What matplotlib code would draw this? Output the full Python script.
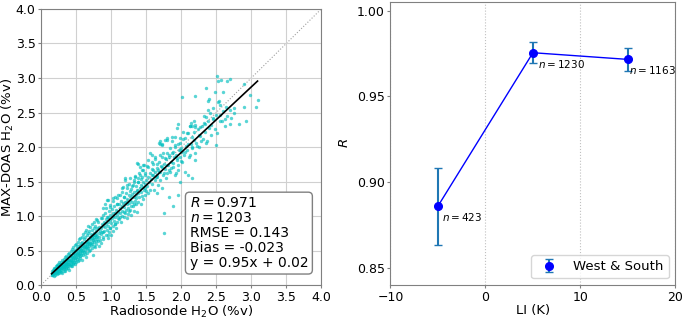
import matplotlib
matplotlib.use('Agg')
import matplotlib.pyplot as plt
import numpy as np

# left panel: radiosonde vs MAX-DOAS H2O
scatter_pts = [
    (0.15, 0.15), (0.15, 0.18), (0.16, 0.14), (0.16, 0.20), (0.16, 0.17), (0.17, 0.16), (0.17, 0.22), (0.17, 0.19),
    (0.18, 0.13), (0.18, 0.18), (0.18, 0.23), (0.19, 0.17), (0.19, 0.21), (0.19, 0.25), (0.20, 0.15), (0.20, 0.19),
    (0.20, 0.24), (0.21, 0.18), (0.21, 0.22), (0.21, 0.27), (0.22, 0.16), (0.22, 0.21), (0.22, 0.25), (0.22, 0.29),
    (0.23, 0.19), (0.23, 0.23), (0.23, 0.27), (0.24, 0.17), (0.24, 0.22), (0.24, 0.26), (0.24, 0.31), (0.25, 0.20),
    (0.25, 0.24), (0.25, 0.28), (0.26, 0.18), (0.26, 0.23), (0.26, 0.27), (0.26, 0.33), (0.27, 0.21), (0.27, 0.25),
    (0.27, 0.30), (0.28, 0.19), (0.28, 0.24), (0.28, 0.28), (0.28, 0.34), (0.29, 0.22), (0.29, 0.27), (0.29, 0.31),
    (0.30, 0.17), (0.30, 0.25), (0.30, 0.29), (0.30, 0.36), (0.31, 0.23), (0.31, 0.28), (0.31, 0.33), (0.32, 0.21),
    (0.32, 0.26), (0.32, 0.31), (0.32, 0.38), (0.33, 0.24), (0.33, 0.29), (0.33, 0.35), (0.34, 0.20), (0.34, 0.27),
    (0.34, 0.32), (0.34, 0.40), (0.35, 0.25), (0.35, 0.30), (0.35, 0.36), (0.36, 0.23), (0.36, 0.29), (0.36, 0.34),
    (0.36, 0.42), (0.37, 0.27), (0.37, 0.32), (0.37, 0.38), (0.38, 0.24), (0.38, 0.30), (0.38, 0.36), (0.38, 0.45),
    (0.39, 0.28), (0.39, 0.34), (0.39, 0.40), (0.40, 0.22), (0.40, 0.31), (0.40, 0.37), (0.40, 0.47), (0.41, 0.29),
    (0.41, 0.35), (0.41, 0.42), (0.42, 0.27), (0.42, 0.33), (0.42, 0.39), (0.42, 0.50), (0.43, 0.30), (0.43, 0.37),
    (0.43, 0.44), (0.44, 0.28), (0.44, 0.35), (0.44, 0.41), (0.44, 0.52), (0.45, 0.32), (0.45, 0.39), (0.45, 0.46),
    (0.46, 0.30), (0.46, 0.37), (0.46, 0.43), (0.46, 0.55), (0.47, 0.34), (0.47, 0.41), (0.47, 0.49), (0.48, 0.31),
    (0.48, 0.39), (0.48, 0.45), (0.48, 0.58), (0.49, 0.36), (0.49, 0.43), (0.49, 0.51), (0.50, 0.33), (0.50, 0.41),
    (0.50, 0.48), (0.50, 0.60), (0.51, 0.38), (0.51, 0.45), (0.51, 0.53), (0.52, 0.35), (0.52, 0.43), (0.52, 0.50),
    (0.52, 0.63), (0.53, 0.40), (0.53, 0.47), (0.53, 0.56), (0.54, 0.37), (0.54, 0.45), (0.54, 0.52), (0.54, 0.66),
    (0.55, 0.42), (0.55, 0.49), (0.55, 0.58), (0.56, 0.39), (0.56, 0.47), (0.56, 0.54), (0.56, 0.68), (0.57, 0.44),
    (0.57, 0.51), (0.57, 0.61), (0.58, 0.36), (0.58, 0.49), (0.58, 0.56), (0.58, 0.70), (0.59, 0.46), (0.59, 0.53),
    (0.59, 0.63), (0.60, 0.43), (0.60, 0.51), (0.60, 0.58), (0.60, 0.74), (0.61, 0.48), (0.61, 0.55), (0.61, 0.66),
    (0.62, 0.45), (0.62, 0.53), (0.62, 0.60), (0.62, 0.77), (0.63, 0.50), (0.63, 0.57), (0.63, 0.69), (0.64, 0.41),
    (0.64, 0.55), (0.64, 0.62), (0.64, 0.80), (0.65, 0.52), (0.65, 0.59), (0.65, 0.72), (0.66, 0.47), (0.66, 0.57),
    (0.66, 0.64), (0.67, 0.54), (0.67, 0.61), (0.67, 0.75), (0.67, 0.85), (0.68, 0.49), (0.68, 0.59), (0.68, 0.67),
    (0.69, 0.56), (0.69, 0.63), (0.69, 0.78), (0.70, 0.51), (0.70, 0.61), (0.70, 0.69), (0.70, 0.84), (0.71, 0.58),
    (0.71, 0.66), (0.71, 0.74), (0.72, 0.53), (0.72, 0.63), (0.72, 0.71), (0.72, 0.88), (0.73, 0.60), (0.73, 0.68),
    (0.73, 0.80), (0.74, 0.44), (0.74, 0.65), (0.74, 0.73), (0.75, 0.57), (0.75, 0.70), (0.75, 0.83), (0.75, 0.92),
    (0.76, 0.62), (0.76, 0.67), (0.76, 0.76), (0.77, 0.55), (0.77, 0.72), (0.77, 0.86), (0.78, 0.64), (0.78, 0.69),
    (0.78, 0.79), (0.79, 0.59), (0.79, 0.74), (0.79, 0.95), (0.80, 0.66), (0.80, 0.71), (0.80, 0.82), (0.80, 0.94),
    (0.81, 0.64), (0.81, 0.92), (0.82, 0.76), (0.82, 0.57), (0.83, 0.84), (0.83, 0.70), (0.84, 0.79), (0.84, 0.65),
    (0.85, 0.97), (0.85, 0.74), (0.86, 0.82), (0.86, 0.61), (0.87, 0.88), (0.87, 0.77), (0.87, 0.97), (0.88, 0.70),
    (0.88, 1.02), (0.89, 0.85), (0.89, 0.66), (0.89, 0.77), (0.89, 1.11), (0.90, 0.91), (0.90, 0.79), (0.91, 0.84),
    (0.91, 1.05), (0.91, 1.18), (0.92, 0.73), (0.92, 0.95), (0.93, 0.88), (0.93, 1.12), (0.94, 0.80), (0.94, 1.23),
    (0.94, 0.99), (0.95, 0.92), (0.95, 0.68), (0.96, 0.99), (0.96, 0.86), (0.96, 0.72), (0.96, 1.23), (0.97, 1.08),
    (0.97, 0.77), (0.98, 0.94), (0.98, 1.16), (0.99, 0.83), (0.99, 1.02), (0.99, 1.13), (0.99, 0.82), (1.00, 0.90),
    (1.00, 0.72), (1.01, 1.10), (1.01, 0.97), (1.02, 0.86), (1.02, 1.22), (1.03, 1.00), (1.03, 0.79), (1.03, 1.26),
    (1.03, 1.04), (1.04, 0.93), (1.04, 1.14), (1.05, 1.05), (1.05, 0.88), (1.06, 0.98), (1.06, 1.28), (1.06, 0.89),
    (1.07, 0.83), (1.07, 1.09), (1.08, 1.26), (1.08, 1.02), (1.08, 1.18), (1.09, 0.92), (1.09, 1.18), (1.10, 1.06),
    (1.10, 0.97), (1.10, 1.30), (1.11, 1.17), (1.11, 0.95), (1.12, 1.30), (1.12, 1.04), (1.13, 1.11), (1.13, 0.99),
    (1.14, 1.22), (1.14, 0.91), (1.15, 1.08), (1.15, 1.35), (1.15, 1.40), (1.16, 1.15), (1.16, 1.00), (1.17, 1.42),
    (1.17, 1.19), (1.18, 1.06), (1.18, 1.27), (1.18, 1.28), (1.19, 0.98), (1.19, 1.13), (1.20, 1.52), (1.20, 1.21),
    (1.20, 1.04), (1.20, 1.55), (1.21, 1.09), (1.21, 1.33), (1.22, 1.17), (1.22, 0.97), (1.22, 1.45), (1.22, 1.21),
    (1.23, 1.25), (1.23, 1.40), (1.24, 1.12), (1.24, 1.03), (1.25, 1.30), (1.25, 1.19), (1.26, 1.46), (1.26, 1.08),
    (1.27, 1.23), (1.27, 1.36), (1.27, 1.55), (1.27, 1.09), (1.28, 1.15), (1.28, 1.28), (1.29, 1.02), (1.29, 1.39),
    (1.30, 1.21), (1.30, 1.32), (1.30, 1.43), (1.31, 1.14), (1.31, 1.45), (1.32, 1.28), (1.32, 1.50), (1.32, 1.18),
    (1.32, 1.52), (1.33, 1.08), (1.33, 1.35), (1.34, 1.22), (1.34, 1.58), (1.34, 1.57), (1.35, 1.31), (1.35, 1.17),
    (1.36, 1.43), (1.36, 1.26), (1.37, 1.77), (1.37, 1.36), (1.37, 1.06), (1.37, 1.38), (1.38, 1.21), (1.38, 1.50),
    (1.39, 1.49), (1.39, 1.33), (1.39, 1.76), (1.39, 1.55), (1.40, 1.62), (1.40, 1.27), (1.41, 1.71), (1.41, 1.40),
    (1.41, 1.59), (1.42, 1.18), (1.42, 1.53), (1.43, 1.35), (1.43, 1.45), (1.44, 1.57), (1.44, 1.29), (1.44, 1.67),
    (1.45, 1.42), (1.45, 1.66), (1.46, 1.24), (1.46, 1.50), (1.46, 1.74), (1.47, 1.38), (1.47, 1.74), (1.48, 1.46),
    (1.48, 1.31), (1.49, 1.60), (1.49, 1.41), (1.49, 1.62), (1.50, 1.52), (1.50, 1.36), (1.51, 1.72), (1.51, 1.44),
    (1.52, 1.56), (1.53, 1.81), (1.53, 1.33), (1.53, 1.71), (1.54, 1.49), (1.55, 1.63), (1.56, 1.91), (1.56, 1.38),
    (1.57, 1.54), (1.58, 1.88), (1.58, 1.68), (1.58, 1.79), (1.58, 1.59), (1.59, 1.47), (1.60, 1.59), (1.60, 1.75),
    (1.60, 1.67), (1.61, 1.37), (1.62, 1.64), (1.62, 1.52), (1.63, 1.83), (1.63, 1.86), (1.64, 1.56), (1.65, 1.33),
    (1.65, 1.70), (1.65, 1.76), (1.65, 1.57), (1.66, 1.60), (1.67, 1.67), (1.67, 1.45), (1.68, 1.78), (1.68, 1.64),
    (1.69, 2.06), (1.70, 1.52), (1.70, 2.05), (1.70, 1.64), (1.70, 2.08), (1.70, 1.88), (1.71, 1.72), (1.72, 1.85),
    (1.72, 1.41), (1.72, 2.05), (1.72, 1.71), (1.73, 2.03), (1.74, 1.91), (1.74, 1.60), (1.75, 1.76), (1.75, 1.62),
    (1.76, 1.04), (1.76, 0.76), (1.77, 1.68), (1.77, 2.10), (1.77, 1.84), (1.78, 1.82), (1.79, 1.55), (1.80, 2.10),
    (1.80, 1.91), (1.80, 1.62), (1.80, 2.13), (1.80, 1.74), (1.81, 1.74), (1.82, 1.28), (1.82, 1.67), (1.82, 1.88),
    (1.83, 1.86), (1.84, 1.98), (1.84, 1.64), (1.85, 1.70), (1.86, 1.79), (1.87, 2.08), (1.87, 2.15), (1.87, 1.91),
    (1.88, 1.93), (1.89, 1.77), (1.89, 1.14), (1.89, 1.71), (1.90, 1.86), (1.91, 2.00), (1.91, 2.15), (1.91, 2.03),
    (1.91, 1.59), (1.92, 1.62), (1.93, 1.89), (1.94, 1.81), (1.94, 2.27), (1.94, 1.84), (1.95, 2.04), (1.96, 1.31),
    (1.96, 1.74), (1.96, 2.34), (1.96, 1.67), (1.97, 1.95), (1.98, 1.86), (1.99, 1.50), (1.99, 2.06), (1.99, 2.13),
    (1.99, 1.96), (2.00, 1.80), (2.00, 1.98), (2.01, 2.72), (2.01, 1.93), (2.01, 1.79), (2.02, 2.22), (2.03, 2.12),
    (2.04, 1.88), (2.06, 2.13), (2.06, 1.64), (2.06, 1.93), (2.07, 2.01), (2.08, 1.96), (2.08, 2.20), (2.10, 2.20),
    (2.10, 2.05), (2.10, 1.59), (2.11, 1.85), (2.12, 2.30), (2.13, 2.30), (2.13, 1.88), (2.14, 2.04), (2.14, 2.35),
    (2.15, 2.14), (2.15, 2.00), (2.15, 1.55), (2.15, 2.30), (2.16, 1.98), (2.18, 2.22), (2.19, 2.10), (2.19, 2.37),
    (2.20, 1.92), (2.20, 2.74), (2.20, 2.32), (2.20, 1.81), (2.20, 2.29), (2.21, 2.06), (2.23, 2.01), (2.24, 2.26),
    (2.25, 2.00), (2.26, 2.18), (2.27, 2.16), (2.27, 2.29), (2.28, 2.08), (2.30, 2.30), (2.31, 2.12), (2.32, 2.45),
    (2.33, 2.35), (2.34, 2.22), (2.34, 2.34), (2.36, 2.06), (2.36, 2.86), (2.36, 2.44), (2.37, 2.08), (2.39, 2.54),
    (2.39, 2.37), (2.39, 2.66), (2.40, 2.27), (2.40, 2.69), (2.41, 2.49), (2.42, 2.32), (2.43, 2.18), (2.45, 2.40),
    (2.45, 2.56), (2.46, 2.42), (2.48, 2.26), (2.48, 2.79), (2.49, 2.03), (2.50, 2.46), (2.51, 3.03), (2.51, 2.20),
    (2.52, 2.65), (2.53, 2.96), (2.54, 2.66), (2.56, 2.47), (2.56, 2.61), (2.56, 2.37), (2.57, 2.97), (2.58, 2.38),
    (2.60, 2.52), (2.60, 2.80), (2.63, 2.30), (2.63, 2.40), (2.64, 2.58), (2.65, 2.96), (2.66, 2.45), (2.69, 2.99),
    (2.70, 2.54), (2.70, 2.34), (2.71, 2.42), (2.75, 2.57), (2.75, 2.49), (2.82, 2.34), (2.89, 2.58), (2.90, 2.91),
    (2.93, 2.37), (2.98, 2.76), (3.07, 2.58), (3.09, 2.68),
]
radiosonde = [p[0] for p in scatter_pts]
maxdoas = [p[1] for p in scatter_pts]

fit_slope, fit_intercept = 0.95, 0.02
stats_lines = ['$R = 0.971$', '$n = 1203$', 'RMSE = 0.143', 'Bias = -0.023', 'y = 0.95x + 0.02']

# right panel: correlation per LI bin
li_bins = [-5, 5, 15]
r_values = [0.886, 0.9754, 0.9715]
r_err = [0.0225, 0.006, 0.0068]
n_counts = [423, 1230, 1163]
label_offsets = [(4, -11), (5, -11), (1, -11)]

fig = plt.figure(figsize=(6.85, 3.21), dpi=100)
ax1 = fig.add_axes([0.060, 0.112, 0.409, 0.860])
ax2 = fig.add_axes([0.570, 0.112, 0.416, 0.882])

ax1.grid(True, color='#d0d0d0', linewidth=0.8, zorder=0)
ax1.plot([0, 4], [0, 4], linestyle=':', color='#a0a0a0', linewidth=0.8, zorder=1)
ax1.scatter(radiosonde, maxdoas, s=6, color='c', alpha=0.65, linewidths=0, zorder=2)
xfit = np.array([min(radiosonde), max(radiosonde)])
ax1.plot(xfit, fit_slope * xfit + fit_intercept, color='black', linewidth=1.2, zorder=3)
ax1.set_xlim(0, 4)
ax1.set_ylim(0, 4)
ax1.set_xticks(np.arange(0, 4.01, 0.5))
ax1.set_yticks(np.arange(0, 4.01, 0.5))
ax1.set_xlabel('Radiosonde H$_2$O (%v)', fontsize=9.5, labelpad=0)
ax1.set_ylabel('MAX-DOAS H$_2$O (%v)', fontsize=9.5, labelpad=0)
ax1.text(0.53, 0.055, '\n'.join(stats_lines), transform=ax1.transAxes, fontsize=10,
         va='bottom', ha='left', linespacing=1.08,
         bbox=dict(boxstyle='round,pad=0.3', facecolor='white', edgecolor='gray'))

ax2.grid(True, axis='x', color='#c0c0c0', linestyle=':', linewidth=0.8)
ax2.plot(li_bins, r_values, color='blue', linewidth=1)
ax2.errorbar(li_bins, r_values, yerr=r_err, fmt='o', color='blue', ecolor='C0',
             capsize=3, markersize=5.5, label='West & South')
for x, y, n, off in zip(li_bins, r_values, n_counts, label_offsets):
    ax2.annotate(f'$n = {n}$', (x, y), xytext=off, textcoords='offset pixels',
                 fontsize=7.5, ha='left', va='center')
ax2.set_xlim(-10, 20)
ax2.set_ylim(0.840, 1.005)
ax2.set_xticks([-10, 0, 10, 20])
ax2.set_yticks([0.85, 0.90, 0.95, 1.00])
ax2.set_xlabel('LI (K)', fontsize=9.5, labelpad=0)
ax2.set_ylabel('$R$', fontsize=9.5)
ax2.legend(loc='lower right', fontsize=9.5)

for ax in (ax1, ax2):
    ax.tick_params(labelsize=9, length=2, pad=2, color='gray')
    for sp in ax.spines.values():
        sp.set_color('gray')

fig.savefig('out.png', dpi=100)
